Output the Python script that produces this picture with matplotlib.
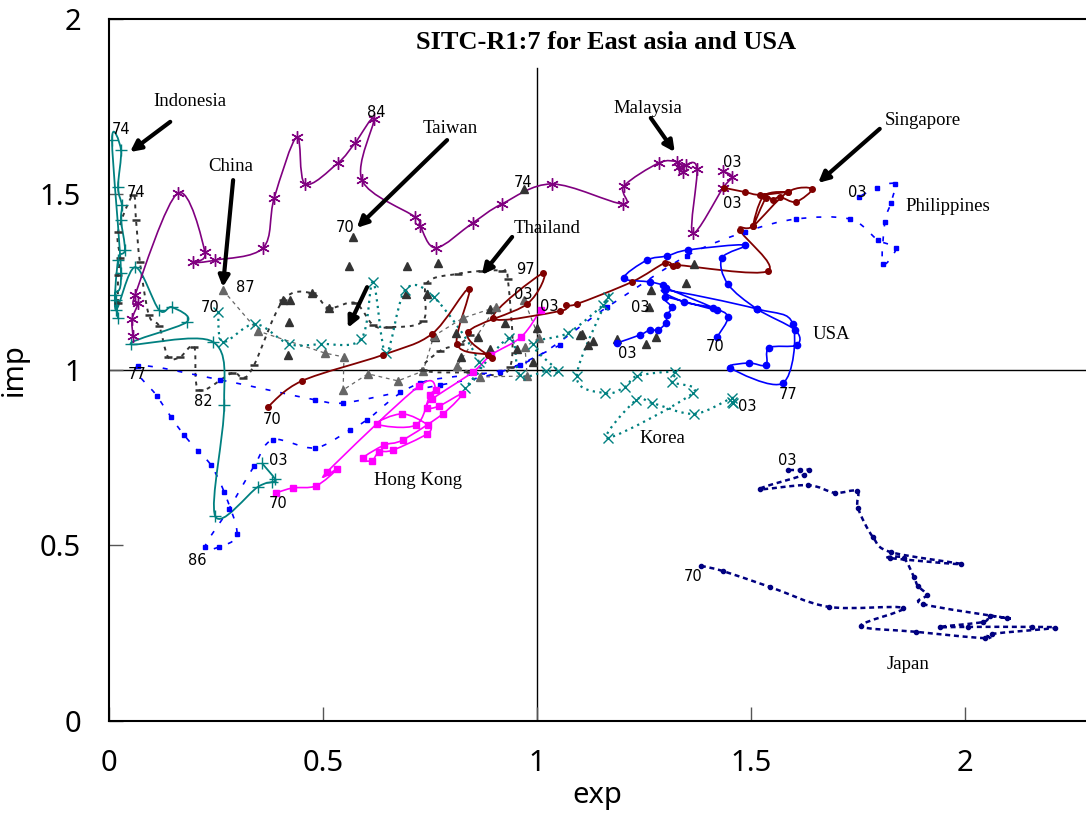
import numpy as np
import matplotlib
matplotlib.use("Agg")
import matplotlib.pyplot as plt
from matplotlib.path import Path
from matplotlib.patches import PathPatch

# ---------------- data (exp, imp) ----------------
indonesia_exp = [0.016, 0.021, 0.014, 0.028, 0.007, 0.028, 0.021, 0.030, 0.028, 0.037, 0.021, 0.016,
                 0.061, 0.117, 0.147, 0.182, 0.051, 0.243, 0.269, 0.248, 0.348, 0.381, 0.388, 0.357]
indonesia_imp = [1.199, 1.148, 1.214, 1.276, 1.655, 1.627, 1.521, 1.470, 1.427, 1.342, 1.313, 1.171,
                 1.293, 1.171, 1.179, 1.137, 1.074, 1.080, 0.900, 0.584, 0.667, 0.681, 0.689, 0.735]

korea_exp = [0.255, 0.266, 0.341, 0.421, 0.495, 0.589, 0.617, 0.647, 0.692, 0.759, 0.864, 0.832,
             0.935, 0.960, 1.021, 1.049, 0.991, 1.072, 1.154, 1.166, 1.093, 1.159, 1.206, 1.234,
             1.322, 1.315, 1.364, 1.166, 1.231, 1.269, 1.367, 1.456, 1.458, 1.455]
korea_imp = [1.165, 1.080, 1.131, 1.074, 1.074, 1.088, 1.251, 1.048, 1.228, 1.208, 1.023, 0.949,
             1.091, 0.986, 0.997, 0.997, 1.074, 1.105, 1.185, 1.208, 0.983, 0.934, 0.952, 0.983,
             0.994, 0.966, 0.934, 0.806, 0.914, 0.906, 0.875, 0.920, 0.906, 0.910]

malaysia_exp = [0.056, 0.054, 0.068, 0.061, 0.161, 0.224, 0.196, 0.248, 0.360, 0.386, 0.439, 0.458,
                0.535, 0.575, 0.619, 0.591, 0.715, 0.727, 0.764, 0.850, 0.918, 1.035, 1.201, 1.203,
                1.285, 1.327, 1.332, 1.341, 1.348, 1.374, 1.364, 1.435, 1.456, 1.435]
malaysia_imp = [1.097, 1.145, 1.191, 1.214, 1.504, 1.336, 1.308, 1.313, 1.348, 1.490, 1.664, 1.530,
                1.590, 1.647, 1.715, 1.541, 1.436, 1.410, 1.348, 1.419, 1.473, 1.530, 1.473, 1.524,
                1.590, 1.593, 1.578, 1.564, 1.584, 1.573, 1.390, 1.519, 1.550, 1.567]

singapore_exp = [0.371, 0.451, 0.640, 0.755, 0.841, 0.813, 0.886, 0.895, 0.839, 0.977, 1.014, 0.897,
                 1.054, 1.068, 1.093, 1.222, 1.299, 1.318, 1.327, 1.540, 1.474, 1.505, 1.586, 1.643,
                 1.605, 1.568, 1.551, 1.535, 1.505, 1.530, 1.586, 1.521, 1.486, 1.437]
singapore_imp = [0.895, 0.969, 1.043, 1.103, 1.231, 1.074, 1.043, 1.034, 1.108, 1.188, 1.276, 1.148,
                 1.168, 1.185, 1.188, 1.251, 1.305, 1.296, 1.299, 1.282, 1.399, 1.410, 1.507, 1.516,
                 1.479, 1.493, 1.484, 1.490, 1.410, 1.496, 1.507, 1.499, 1.507, 1.519]

usa_exp = [1.421, 1.446, 1.411, 1.343, 1.299, 1.514, 1.598, 1.575, 1.451, 1.495, 1.535, 1.542,
           1.607, 1.603, 1.514, 1.446, 1.432, 1.486, 1.353, 1.304, 1.257, 1.203, 1.264, 1.294,
           1.301, 1.421, 1.299, 1.315, 1.304, 1.301, 1.283, 1.264, 1.241, 1.187]
usa_imp = [1.094, 1.151, 1.177, 1.194, 1.228, 1.174, 1.131, 0.963, 1.006, 1.020, 1.014, 1.063,
           1.071, 1.114, 1.174, 1.245, 1.319, 1.356, 1.342, 1.325, 1.313, 1.262, 1.251, 1.242,
           1.234, 1.171, 1.208, 1.179, 1.157, 1.134, 1.114, 1.114, 1.100, 1.077]

hongkong_exp = [0.390, 0.430, 0.484, 0.533, 0.509, 0.724, 0.764, 0.750, 0.717, 0.626, 0.685, 0.745,
                0.743, 0.664, 0.631, 0.614, 0.593, 0.643, 0.687, 0.780, 0.825, 0.771, 0.743, 0.755,
                0.850, 0.893, 0.963, 1.009]
hongkong_imp = [0.650, 0.664, 0.670, 0.718, 0.709, 0.954, 0.943, 0.929, 0.843, 0.846, 0.875, 0.843,
                0.818, 0.772, 0.766, 0.741, 0.749, 0.786, 0.801, 0.875, 0.932, 0.897, 0.892, 0.917,
                0.994, 1.043, 1.094, 1.171]

japan_exp = [1.383, 1.435, 1.544, 1.682, 1.855, 1.757, 1.886, 2.047, 2.063, 2.210, 2.157, 2.007,
             1.942, 2.042, 2.058, 2.098, 1.902, 1.911, 1.890, 1.881, 1.857, 1.825, 1.991, 1.827,
             1.785, 1.750, 1.748, 1.696, 1.633, 1.521, 1.624, 1.636, 1.614, 1.586]
japan_imp = [0.442, 0.427, 0.382, 0.325, 0.322, 0.271, 0.254, 0.236, 0.248, 0.265, 0.268, 0.268,
             0.268, 0.282, 0.299, 0.293, 0.333, 0.359, 0.385, 0.410, 0.464, 0.464, 0.447, 0.481,
             0.524, 0.607, 0.655, 0.650, 0.672, 0.661, 0.701, 0.715, 0.715, 0.715]

philippines_exp = [1.054, 0.914, 0.773, 0.680, 0.547, 0.481, 0.259, 0.068, 0.112, 0.145, 0.175, 0.208,
                   0.238, 0.269, 0.299, 0.257, 0.224, 0.280, 0.339, 0.383, 0.481, 0.563, 0.603, 0.727,
                   0.960, 1.164, 1.350, 1.486, 1.605, 1.731, 1.797, 1.839, 1.808, 1.813, 1.827, 1.836,
                   1.794, 1.752]
philippines_imp = [1.071, 0.994, 0.957, 0.937, 0.906, 0.915, 0.972, 1.011, 0.926, 0.866, 0.815, 0.769,
                   0.729, 0.652, 0.533, 0.496, 0.496, 0.604, 0.726, 0.801, 0.778, 0.829, 0.858, 0.963,
                   1.014, 1.179, 1.325, 1.393, 1.430, 1.430, 1.370, 1.348, 1.302, 1.422, 1.476, 1.530,
                   1.519, 1.493]

china_exp = [0.266, 0.348, 0.505, 0.549, 0.547, 0.605, 0.675, 0.734, 0.759, 0.827, 0.904, 0.813,
             0.867, 0.977, 0.972, 1.005, 0.970]
china_imp = [1.228, 1.111, 1.048, 1.037, 0.943, 0.989, 0.969, 0.997, 1.097, 1.148, 1.179, 1.011,
             0.980, 0.983, 1.066, 1.091, 1.199]

taiwan_exp = [0.570, 0.561, 0.474, 0.696, 0.970, 0.769, 0.694, 0.743, 0.407, 0.423, 0.421, 0.418,
              0.514, 0.762, 0.811, 0.822, 0.862, 0.890, 0.890, 0.925, 0.953, 0.991, 1.000, 1.100,
              1.119, 1.105, 1.131, 1.187, 1.255, 1.278, 1.348, 1.367, 1.266, 1.262]
taiwan_imp = [1.379, 1.296, 1.219, 1.296, 1.516, 1.305, 1.217, 1.217, 1.199, 1.199, 1.137, 1.043,
              1.177, 1.094, 1.105, 1.037, 1.094, 1.060, 1.174, 1.134, 1.060, 1.023, 1.120, 1.100,
              1.071, 1.103, 1.083, 1.088, 1.074, 1.094, 1.248, 1.302, 1.228, 1.179]

thailand_exp = [0.021, 0.021, 0.026, 0.021, 0.056, 0.063, 0.072, 0.093, 0.117, 0.138, 0.166, 0.199,
                0.210, 0.287, 0.313, 0.339, 0.407, 0.474, 0.514, 0.575, 0.617, 0.654, 0.734, 0.743,
                0.815, 0.871, 0.918, 0.932, 0.937, 0.843, 0.734, 0.773, 0.820, 0.843]
thailand_imp = [1.191, 1.271, 1.319, 1.393, 1.499, 1.427, 1.308, 1.157, 1.125, 1.037, 1.037, 1.066,
                0.943, 0.991, 0.977, 1.014, 1.199, 1.219, 1.177, 1.191, 1.128, 1.122, 1.140, 1.248,
                1.274, 1.282, 1.282, 1.259, 1.008, 0.994, 1.000, 1.054, 1.074, 1.100]

# country labels: (text, exp, imp)
country_labels = [("Indonesia", 0.189, 1.764), ("China", 0.285, 1.581), ("Taiwan", 0.797, 1.689),
                  ("Malaysia", 1.259, 1.746), ("Singapore", 1.902, 1.712), ("Thailand", 1.023, 1.402),
                  ("Philippines", 1.960, 1.467), ("USA", 1.687, 1.100), ("Korea", 1.294, 0.806),
                  ("Hong Kong", 0.722, 0.684), ("Japan", 1.867, 0.162)]

year_labels = [("74", 0.028, 1.684), ("74", 0.063, 1.507), ("84", 0.624, 1.735), ("70", 0.551, 1.407),
               ("87", 0.318, 1.236), ("70", 0.236, 1.179), ("77", 0.065, 0.986), ("82", 0.220, 0.909),
               ("86", 0.206, 0.456), ("70", 0.381, 0.860), ("03", 0.395, 0.741), ("70", 0.395, 0.621),
               ("74", 0.967, 1.533), ("97", 0.974, 1.285), ("03", 0.967, 1.214), ("03", 1.028, 1.182),
               ("03", 1.456, 1.590), ("03", 1.456, 1.473), ("03", 1.241, 1.179), ("03", 1.210, 1.046),
               ("70", 1.416, 1.066), ("77", 1.586, 0.929), ("03", 1.491, 0.895), ("03", 1.748, 1.507),
               ("70", 1.364, 0.413), ("03", 1.586, 0.741)]

# arrows: (tail exp, tail imp, tip exp, tip imp)
arrows = [(0.143, 1.707, 0.049, 1.621), (0.290, 1.541, 0.266, 1.236), (0.790, 1.655, 0.579, 1.405),
          (0.942, 1.379, 0.871, 1.271), (1.266, 1.718, 1.322, 1.621), (1.801, 1.687, 1.657, 1.533),
          (0.603, 1.236, 0.558, 1.120)]

# ---------------- helpers ----------------
def smooth_path(x, y):
    pts = np.column_stack([x, y]).astype(float)
    n = len(pts)
    verts = [pts[0]]
    codes = [Path.MOVETO]
    for i in range(n - 1):
        p0 = pts[i - 1] if i > 0 else pts[i]
        p1 = pts[i]
        p2 = pts[i + 1]
        p3 = pts[i + 2] if i + 2 < n else pts[i + 1]
        c1 = p1 + (p2 - p0) / 6.0
        c2 = p2 - (p3 - p1) / 6.0
        verts += [c1, c2, p2]
        codes += [Path.CURVE4] * 3
    return Path(verts, codes)


def series(ax, x, y, color, ls, lw, marker, ms, mew=1.0, mfc=None, z=2, smooth=True):
    if ls is not None:
        if smooth:
            ax.add_patch(PathPatch(smooth_path(x, y), fill=False, ec=color, lw=lw,
                                   ls=ls, zorder=z, capstyle='butt'))
        else:
            ax.plot(x, y, color=color, lw=lw, ls=ls, zorder=z)
    ax.plot(x, y, ls='none', marker=marker, ms=ms, color=color, mec=color,
            mfc=mfc if mfc is not None else color, mew=mew, zorder=z + 0.1)


# ---------------- figure ----------------
fig = plt.figure(figsize=(10.86, 8.19), dpi=100)
ax = fig.add_axes([0.1004, 0.1197, 0.8996, 0.8571])
ax.set_xlim(0, 2.283)
ax.set_ylim(0, 2)

ax.plot([0, 2.283], [1, 1], color='black', lw=1.0, zorder=1)
ax.plot([1, 1], [0, 1.86], color='black', lw=1.0, zorder=1)

series(ax, taiwan_exp, taiwan_imp, '#333333', None, 0, '^', 5.5)
series(ax, china_exp, china_imp, '#666666', (0, (3, 3)), 0.9, '^', 5.5, smooth=False)
series(ax, thailand_exp, thailand_imp, '#333333', (0, (2, 2.5)), 1.4, '_', 6, mew=1.8)
series(ax, philippines_exp, philippines_imp, '#0000FF', (0, (3, 6)), 1.2, 's', 2.5)
series(ax, japan_exp, japan_imp, '#000080', (0, (2, 1.5)), 1.8, 'o', 3.0)
series(ax, korea_exp, korea_imp, '#008080', (0, (1, 2)), 1.6, 'x', 7, mew=1.0)
series(ax, indonesia_exp, indonesia_imp, '#008080', '-', 1.3, '+', 8, mew=1.0)
series(ax, hongkong_exp, hongkong_imp, '#FF00FF', '-', 1.2, 's', 4.5)
series(ax, malaysia_exp, malaysia_imp, '#800080', '-', 1.2, (6, 2, 0), 9, mew=1.0)
series(ax, singapore_exp, singapore_imp, '#800000', '-', 1.3, 'o', 4)
series(ax, usa_exp, usa_imp, '#0000FF', '-', 1.2, 'o', 4.5)

for (x0, y0, x1, y1) in arrows:
    ax.annotate('', xy=(x1, y1), xytext=(x0, y0),
                arrowprops=dict(arrowstyle='-|>', lw=3, color='black', mutation_scale=16,
                                shrinkA=0, shrinkB=0), zorder=5)

for (t, x, y) in country_labels:
    ax.text(x, y, t, ha='center', va='center', fontsize=13.5, family='Liberation Serif', zorder=6)

for (t, x, y) in year_labels:
    ax.text(x, y, t, ha='center', va='center', fontsize=10.5, family='DejaVu Sans', zorder=6)

ax.text(0.509, 0.967, 'SITC-R1:7 for East asia and USA', transform=ax.transAxes,
        ha='center', va='center', fontsize=19, fontweight='bold', family='Liberation Serif')

ax.set_xticks([0, 0.5, 1, 1.5, 2])
ax.set_xticklabels(['0', '0.5', '1', '1.5', '2'])
ax.set_yticks([0, 0.5, 1, 1.5, 2])
ax.set_yticklabels(['0', '0.5', '1', '1.5', '2'])
ax.tick_params(direction='in', length=10, width=1, color='#555555', labelsize=21, pad=20)
for lab in ax.get_xticklabels() + ax.get_yticklabels():
    lab.set_family('Noto Sans')
ax.spines['right'].set_visible(False)
for s in ['left', 'bottom', 'top']:
    ax.spines[s].set_linewidth(1.5)
ax.set_xlabel('exp', fontsize=21, family='Noto Sans', labelpad=2)
ax.set_ylabel('imp', fontsize=21, family='Noto Sans', labelpad=8)

fig.savefig('out.png', dpi=100)
